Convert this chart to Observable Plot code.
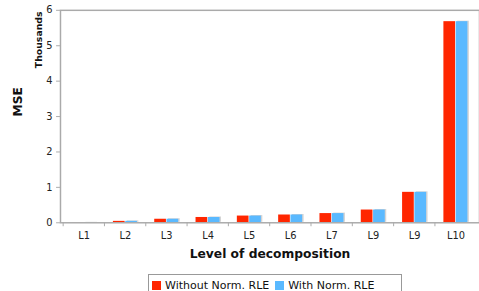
<!DOCTYPE html>
<html><head><meta charset="utf-8">
<script src="https://cdn.jsdelivr.net/npm/d3@7"></script>
<script src="https://cdn.jsdelivr.net/npm/@observablehq/plot@0.6"></script>
<style>
html,body{margin:0;padding:0;background:#fff}
body{width:479px;height:291px;overflow:hidden;position:relative;font-family:"DejaVu Sans",Verdana,sans-serif}
#chart{position:absolute;left:0;top:0}
#legend{position:absolute;left:148px;top:274px;width:252px;height:20px;border:1px solid #999;background:#fff;font-size:11px;color:#111;display:flex;align-items:center;white-space:nowrap}
#legend .item{display:flex;align-items:center;margin-left:3px;margin-right:3px}
#legend .sw{width:9px;height:9px;margin-right:4px;display:inline-block}
</style></head><body><div id="chart"></div><div id="legend"></div>
<script>
const levels = ["L1","L2","L3","L4","L5","L6","L7","L9","L9","L10"];
const withoutNorm = [0.005, 0.04, 0.10, 0.15, 0.19, 0.22, 0.26, 0.36, 0.86, 5.68];
const withNorm    = [0.005, 0.04, 0.10, 0.15, 0.19, 0.22, 0.26, 0.36, 0.86, 5.68];
const seriesNames = ["Without Norm. RLE", "With Norm. RLE"];
const seriesColors = ["#ff2600", "#5ab9ff"];
const yTicks = [0, 1, 2, 3, 4, 5, 6];

const idx = d3.range(levels.length);
const rowsA = idx.map(i => ({i, v: withoutNorm[i]}));
const rowsB = idx.map(i => ({i, v: withNorm[i]}));
const band = 426 / levels.length;
const outer = 8.8, half = band / 2;

const chart = Plot.plot({
  width: 487, height: 270,
  marginLeft: 61, marginRight: 0, marginTop: 10, marginBottom: 44,
  style: {fontFamily: '"DejaVu Sans", Verdana, sans-serif', background: "#fff"},
  x: {type: "band", domain: idx, padding: 0, axis: null},
  y: {domain: [0, 6], axis: null},
  marks: [
    Plot.barY(rowsB, {x: "i", y: "v", fill: "#d4d4d4", insetLeft: half, insetRight: outer, dx: 1.5, dy: -0.5}),
    Plot.barY(rowsA, {x: "i", y: "v", fill: seriesColors[0], insetLeft: outer, insetRight: half}),
    Plot.barY(rowsB, {x: "i", y: "v", fill: seriesColors[1], insetLeft: half, insetRight: outer}),
    Plot.frame({stroke: "#aaa", strokeWidth: 1.5}),
    Plot.axisY({ticks: yTicks, tickFormat: d3.format("d"), tickSize: 4, tickPadding: 4, stroke: "#aaa", fill: "#222", fontSize: 10, label: null}),
    Plot.axisX({tickSize: 0, tickPadding: 9, tickFormat: i => levels[i], fill: "#222", fontSize: 10, label: null}),
    Plot.axisX({tickSize: 4, tickFormat: () => "", dx: -half, stroke: "#aaa", label: null}),
    Plot.text(["Level of decomposition"], {frameAnchor: "bottom", dy: 32, text: d => d, fontWeight: "bold", fontSize: 12.5, fill: "#111", lineAnchor: "middle"}),
    Plot.text(["MSE"], {frameAnchor: "left", dx: -43, text: d => d, rotate: -90, fontWeight: "bold", fontSize: 12.5, fill: "#111", lineAnchor: "middle"}),
    Plot.text(["Thousands"], {frameAnchor: "top-left", dx: -22, dy: 30, text: d => d, rotate: -90, textAnchor: "middle", lineAnchor: "middle", fontWeight: "bold", fontSize: 9.5, fill: "#111"})
  ]
});
document.getElementById("chart").appendChild(chart);

const legend = document.getElementById("legend");
seriesNames.forEach((name, k) => {
  const item = document.createElement("span");
  item.className = "item";
  const sw = document.createElement("span");
  sw.className = "sw";
  sw.style.background = seriesColors[k];
  item.appendChild(sw);
  item.appendChild(document.createTextNode(name));
  legend.appendChild(item);
});
</script>
</body></html>
